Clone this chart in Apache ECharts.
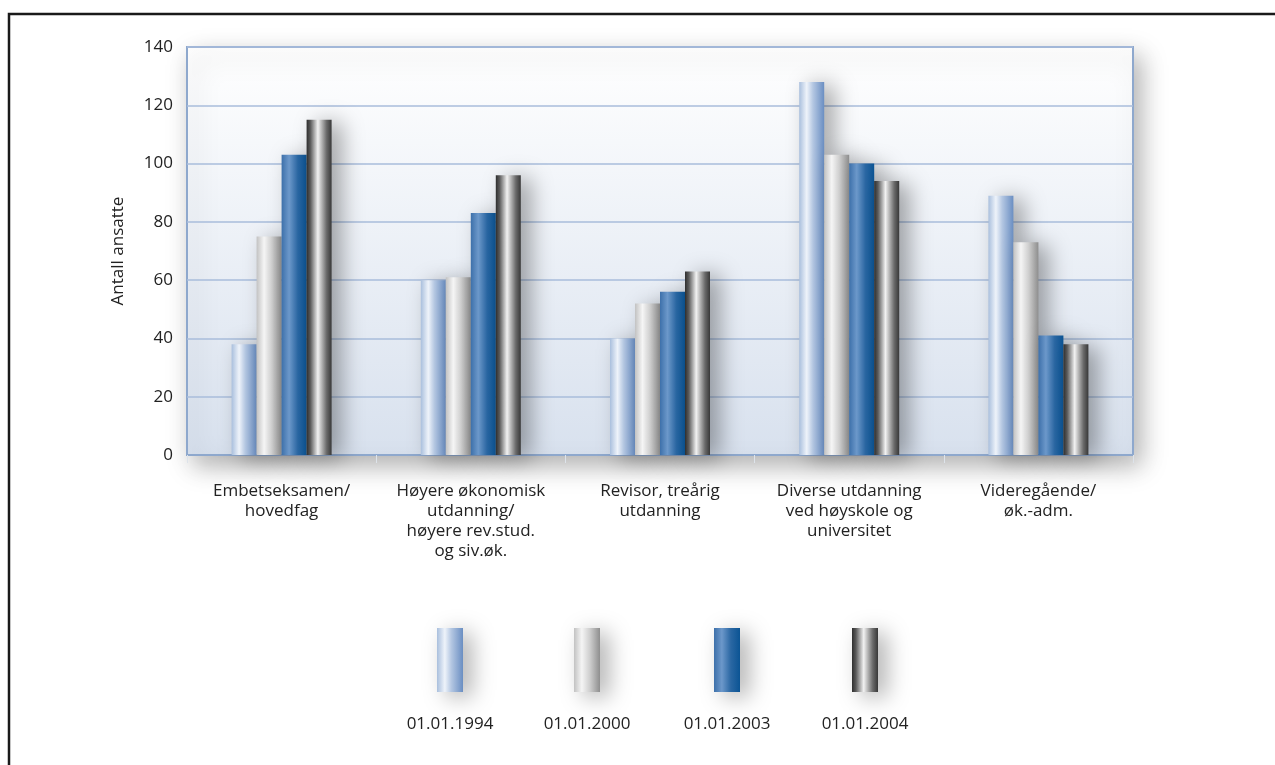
<!DOCTYPE html>
<html>
<head>
<meta charset="utf-8">
<script src="https://cdn.jsdelivr.net/npm/echarts@6/dist/echarts.min.js"></script>
<style>
html,body{margin:0;padding:0;background:#fff;}
#chart{width:1275px;height:765px;}
</style>
</head>
<body>
<div id="chart"></div>
<script>
// ---- data ----
const categories = [
  'Embetseksamen/\nhovedfag',
  'Høyere økonomisk\nutdanning/\nhøyere rev.stud.\nog siv.øk.',
  'Revisor, treårig\nutdanning',
  'Diverse utdanning\nved høyskole og\nuniversitet',
  'Videregående/\nøk.-adm.'
];
const seriesNames = ['01.01.1994', '01.01.2000', '01.01.2003', '01.01.2004'];
const v1994 = [38, 60, 40, 128, 89];
const v2000 = [75, 61, 52, 103, 73];
const v2003 = [103, 83, 56, 100, 41];
const v2004 = [115, 96, 63, 94, 38];
const yTicks = [0, 20, 40, 60, 80, 100, 120, 140];
const yAxisName = 'Antall ansatte';

const seriesValues = [v1994, v2000, v2003, v2004];

function grad(stops) {
  return new echarts.graphic.LinearGradient(0, 0, 1, 0,
    stops.map(s => ({offset: s[0], color: s[1]})));
}
const fills = [
  grad([[0,'#a9bfdd'],[0.3,'#eef3fa'],[0.55,'#b4c7e2'],[1,'#6a8ec2']]),
  grad([[0,'#c2c2c2'],[0.3,'#f5f5f5'],[0.6,'#d0d0d0'],[1,'#8e8e8e']]),
  grad([[0,'#3d70aa'],[0.3,'#6c98ca'],[0.65,'#2a67a3'],[1,'#0b5494']]),
  grad([[0,'#2e2e2e'],[0.15,'#5a5a5a'],[0.45,'#f2f2f2'],[0.8,'#6a6a6a'],[1,'#383838']])
];

const FONT = 'Open Sans';
const FS = 17;
const chart = echarts.init(document.getElementById('chart'), null, {renderer: 'canvas'});

const legendLeft = [437, 574, 714, 852];
const legends = seriesNames.map((n, i) => ({
  data: [n],
  left: legendLeft[i],
  top: 628,
  padding: 0,
  itemWidth: 26,
  itemHeight: 64,
  itemGap: 0,
  selectedMode: false,
  formatter: () => '',
  icon: 'rect',
  itemStyle: {shadowBlur: 22, shadowColor: 'rgba(0,0,0,0.3)', shadowOffsetX: 9, shadowOffsetY: 5}
}));

const legendTexts = seriesNames.map((n, i) => ({
  type: 'text',
  x: legendLeft[i] + 13,
  y: 724,
  style: {text: n, font: FS + 'px "' + FONT + '"', fill: '#222', align: 'center', verticalAlign: 'middle'}
}));

chart.setOption({
  backgroundColor: '#ffffff',
  animation: false,
  textStyle: {fontFamily: FONT},
  grid: {
    left: 187, right: 142, top: 47, bottom: 310,
    show: true,
    backgroundColor: new echarts.graphic.LinearGradient(0, 0, 0, 1, [
      {offset: 0, color: '#ffffff'}, {offset: 1, color: '#d8e1ee'}
    ]),
    borderColor: '#8ea8cd',
    borderWidth: 2,
    shadowBlur: 24,
    shadowColor: 'rgba(0,0,0,0.3)',
    shadowOffsetX: 7,
    shadowOffsetY: 10
  },
  legend: legends,
  xAxis: {
    type: 'category',
    data: categories,
    axisLine: {show: true, lineStyle: {color: '#8ea8cd', width: 2}},
    axisTick: {show: true, length: 8, lineStyle: {color: '#dde3ea'}},
    axisLabel: {interval: 0, color: '#222', fontSize: FS, lineHeight: 20, margin: 26, fontFamily: FONT}
  },
  yAxis: {
    type: 'value',
    min: 0, max: 140, interval: 20,
    name: yAxisName,
    nameLocation: 'middle',
    nameGap: 60,
    nameTextStyle: {color: '#222', fontSize: FS, fontFamily: FONT},
    axisLine: {show: false},
    axisTick: {show: false},
    axisLabel: {color: '#222', fontSize: FS, margin: 14, fontFamily: FONT,
      formatter: v => yTicks.includes(v) ? String(v) : ''},
    splitLine: {show: true, lineStyle: {color: '#a9bddb', width: 1.5}}
  },
  series: seriesNames.map((n, i) => ({
    name: n,
    type: 'bar',
    data: seriesValues[i],
    barWidth: 25,
    barGap: '0%',
    itemStyle: {
      color: fills[i],
      shadowBlur: 22,
      shadowColor: 'rgba(0,0,0,0.35)',
      shadowOffsetX: 10,
      shadowOffsetY: 3
    },
    emphasis: {disabled: true}
  })),
  graphic: [
    {type: 'rect', shape: {x: 9, y: 14, width: 1400, height: 900}, style: {fill: 'none', stroke: '#1a1a1a', lineWidth: 2.5}, silent: true, z: 100}
  ].concat(legendTexts)
});
</script>
</body>
</html>
